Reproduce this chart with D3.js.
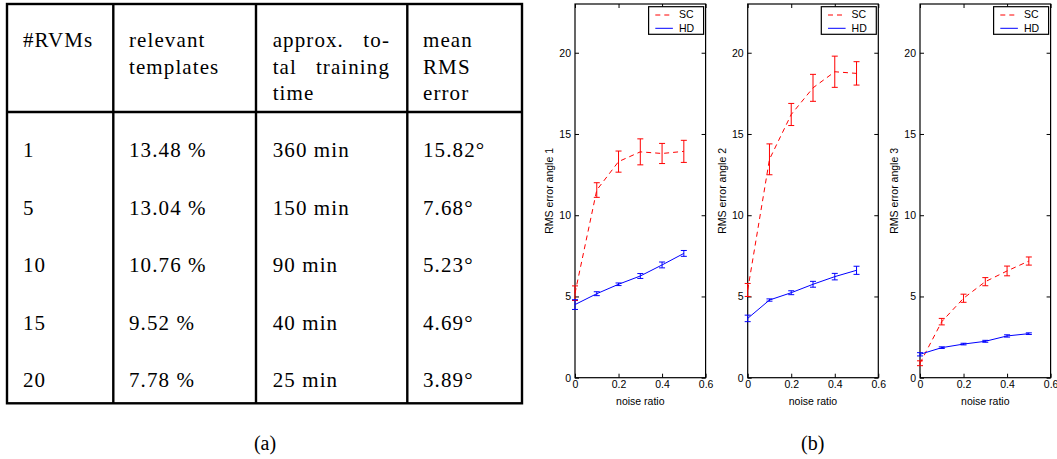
<!DOCTYPE html>
<html>
<head>
<meta charset="utf-8">
<script src="https://cdn.jsdelivr.net/npm/d3@7"></script>
<style>
  body { margin: 0; background: #fff; }
  svg { display: block; }
</style>
</head>
<body>
<script>
// ---- table (a) data ----
var rvms = ["1", "5", "10", "15", "20"];
var relevantTemplates = ["13.48 %", "13.04 %", "10.76 %", "9.52 %", "7.78 %"];
var trainingTime = ["360 min", "150 min", "90 min", "40 min", "25 min"];
var meanRmsError = ["15.82°", "7.68°", "5.23°", "4.69°", "3.89°"];

// header cells, one entry per line; two words = justified line
var headerLines = [
  [["#RVMs"]],
  [["relevant"], ["templates"]],
  [["approx.", "to-"], ["tal", "training"], ["time"]],
  [["mean"], ["RMS"], ["error"]]
];

// ---- plots (b) data ----
var noiseRatio = [0, 0.1, 0.2, 0.3, 0.4, 0.5];
var seriesNames = ["SC", "HD"];

var scAngle1 = [5.2, 11.55, 13.3, 13.9, 13.8, 13.93];
var scAngle1Err = [0.45, 0.45, 0.65, 0.8, 0.62, 0.68];
var hdAngle1 = [4.5, 5.17, 5.75, 6.26, 6.94, 7.65];
var hdAngle1Err = [0.3, 0.12, 0.08, 0.15, 0.18, 0.18];

var scAngle2 = [5.4, 13.44, 16.2, 17.84, 18.83, 18.73];
var scAngle2Err = [0.4, 0.95, 0.68, 0.83, 0.96, 0.72];
var hdAngle2 = [3.65, 4.78, 5.23, 5.75, 6.22, 6.61];
var hdAngle2Err = [0.2, 0.07, 0.12, 0.18, 0.2, 0.25];

var scAngle3 = [0.89, 3.45, 4.89, 5.91, 6.57, 7.18];
var scAngle3Err = [0.15, 0.2, 0.25, 0.25, 0.3, 0.25];
var hdAngle3 = [1.44, 1.85, 2.07, 2.24, 2.57, 2.71];
var hdAngle3Err = [0.1, 0.05, 0.05, 0.06, 0.07, 0.05];

var xTicks = [0, 0.2, 0.4, 0.6];
var yTicks = [0, 5, 10, 15, 20];

var svg = d3.select("body").append("svg")
  .attr("width", 1057)
  .attr("height", 459);

/** Table (a) **/
var serif = "'Liberation Serif', 'Times New Roman', serif";
var tbl = svg.append("g");
var colX = [7, 113.3, 256, 407.3, 522];      // border positions
var textX = [23, 129, 272.7, 423];
var colRight = [null, null, 390, null];
var tTop = 4, tHead = 112, tBottom = 403.3;

tbl.append("rect")
  .attr("x", colX[0]).attr("y", tTop)
  .attr("width", colX[4] - colX[0]).attr("height", tBottom - tTop)
  .attr("fill", "none").attr("stroke", "#000").attr("stroke-width", 2.4);
tbl.selectAll("line.col")
  .data(colX.slice(1, 4))
  .enter().append("line")
  .attr("x1", function (d) { return d; }).attr("x2", function (d) { return d; })
  .attr("y1", tTop).attr("y2", tBottom)
  .attr("stroke", "#000").attr("stroke-width", 2.4);
tbl.append("line")
  .attr("x1", colX[0]).attr("x2", colX[4])
  .attr("y1", tHead).attr("y2", tHead)
  .attr("stroke", "#000").attr("stroke-width", 2.4);

function cellText(x, y, s, anchor) {
  tbl.append("text")
    .attr("x", x).attr("y", y)
    .attr("text-anchor", anchor || "start")
    .style("font-family", serif)
    .style("font-size", "21px")
    .style("letter-spacing", "1.1px")
    .text(s);
}

headerLines.forEach(function (lines, c) {
  lines.forEach(function (words, l) {
    var y = 47 + l * 26.7;
    cellText(textX[c], y, words[0]);
    if (words.length > 1) cellText(colRight[c], y, words[1], "end");
  });
});

var columns = [rvms, relevantTemplates, trainingTime, meanRmsError];
columns.forEach(function (col, c) {
  col.forEach(function (s, r) {
    cellText(textX[c], 157 + r * 57.5, s);
  });
});

svg.append("text")
  .attr("x", 265).attr("y", 450)
  .attr("text-anchor", "middle")
  .style("font-family", serif).style("font-size", "20px")
  .text("(a)");

/** Plots (b) **/
var sans = "'Liberation Sans', Arial, Helvetica, sans-serif";
var panels = [
  { left: 575, label: "RMS error angle 1", sc: scAngle1, scErr: scAngle1Err, hd: hdAngle1, hdErr: hdAngle1Err },
  { left: 747.7, label: "RMS error angle 2", sc: scAngle2, scErr: scAngle2Err, hd: hdAngle2, hdErr: hdAngle2Err },
  { left: 920, label: "RMS error angle 3", sc: scAngle3, scErr: scAngle3Err, hd: hdAngle3, hdErr: hdAngle3Err }
];
var pW = 130.6, pTop = 4, pH = 373.7;

var x = d3.scaleLinear().domain([0, 0.6]).range([0, pW]);
var y = d3.scaleLinear().domain([0, 23]).range([pH, 0]);

panels.forEach(function (p) {
  var g = svg.append("g").attr("transform", "translate(" + p.left + "," + pTop + ")");

  // ticks inside, matlab style
  var ax = [
    g.append("g").attr("transform", "translate(0," + pH + ")")
      .call(d3.axisBottom(x).tickValues(xTicks).tickSize(-4).tickPadding(3)
        .tickFormat(function (d) { return d === 0 ? "0" : d3.format(".1f")(d); })),
    g.append("g")
      .call(d3.axisTop(x).tickValues(xTicks).tickSize(-4).tickFormat("")),
    g.append("g")
      .call(d3.axisLeft(y).tickValues(yTicks).tickSize(-4).tickPadding(4)),
    g.append("g").attr("transform", "translate(" + pW + ",0)")
      .call(d3.axisRight(y).tickValues(yTicks).tickSize(-4).tickFormat(""))
  ];
  ax.forEach(function (a) {
    a.select(".domain").remove();
    a.selectAll("text").style("font-family", sans).style("font-size", "10.5px").attr("fill", "#000");
    a.selectAll("line").attr("stroke", "#000");
  });

  g.append("rect")
    .attr("width", pW).attr("height", pH)
    .attr("fill", "none").attr("stroke", "#000").attr("stroke-width", 1.2);

  var series = [
    { vals: p.sc, err: p.scErr, color: "#ff0000", dash: "5,4" },
    { vals: p.hd, err: p.hdErr, color: "#0000ff", dash: null }
  ];

  series.forEach(function (s) {
    var pts = noiseRatio.map(function (n, i) { return { n: n, v: s.vals[i], e: s.err[i] }; });
    var line = d3.line()
      .x(function (d) { return x(d.n); })
      .y(function (d) { return y(d.v); });
    g.append("path")
      .datum(pts)
      .attr("d", line)
      .attr("fill", "none")
      .attr("stroke", s.color)
      .attr("stroke-width", 1)
      .attr("stroke-dasharray", s.dash);

    var eb = g.selectAll(null).data(pts).enter().append("g").attr("stroke", s.color).attr("stroke-width", 1);
    eb.append("line")
      .attr("x1", function (d) { return x(d.n); }).attr("x2", function (d) { return x(d.n); })
      .attr("y1", function (d) { return y(d.v - d.e); }).attr("y2", function (d) { return y(d.v + d.e); });
    eb.append("line")
      .attr("x1", function (d) { return x(d.n) - 3; }).attr("x2", function (d) { return x(d.n) + 3; })
      .attr("y1", function (d) { return y(d.v - d.e); }).attr("y2", function (d) { return y(d.v - d.e); });
    eb.append("line")
      .attr("x1", function (d) { return x(d.n) - 3; }).attr("x2", function (d) { return x(d.n) + 3; })
      .attr("y1", function (d) { return y(d.v + d.e); }).attr("y2", function (d) { return y(d.v + d.e); });
  });

  // axis labels
  g.append("text")
    .attr("x", pW / 2).attr("y", pH + 27)
    .attr("text-anchor", "middle")
    .style("font-family", sans).style("font-size", "10.5px")
    .text("noise ratio");
  g.append("text")
    .attr("transform", "translate(-22," + (pH / 2) + ")rotate(-90)")
    .attr("text-anchor", "middle")
    .style("font-family", sans).style("font-size", "10.5px")
    .text(p.label);

  // legend
  var lg = g.append("g").attr("transform", "translate(" + (pW - 57) + ",2.7)");
  lg.append("rect")
    .attr("width", 55).attr("height", 27.6)
    .attr("fill", "#fff").attr("stroke", "#000").attr("stroke-width", 1.2);
  seriesNames.forEach(function (name, i) {
    var ly = 8.3 + i * 13.3;
    lg.append("line")
      .attr("x1", 6.7).attr("x2", 24.3).attr("y1", ly).attr("y2", ly)
      .attr("stroke", series[i].color).attr("stroke-width", 1)
      .attr("stroke-dasharray", series[i].dash ? "5,4" : null);
    lg.append("text")
      .attr("x", 30.3).attr("y", ly + 3.5)
      .style("font-family", sans).style("font-size", "10.5px")
      .text(name);
  });
});

svg.append("text")
  .attr("x", 812.7).attr("y", 450)
  .attr("text-anchor", "middle")
  .style("font-family", serif).style("font-size", "20px")
  .text("(b)");
</script>
</body>
</html>
